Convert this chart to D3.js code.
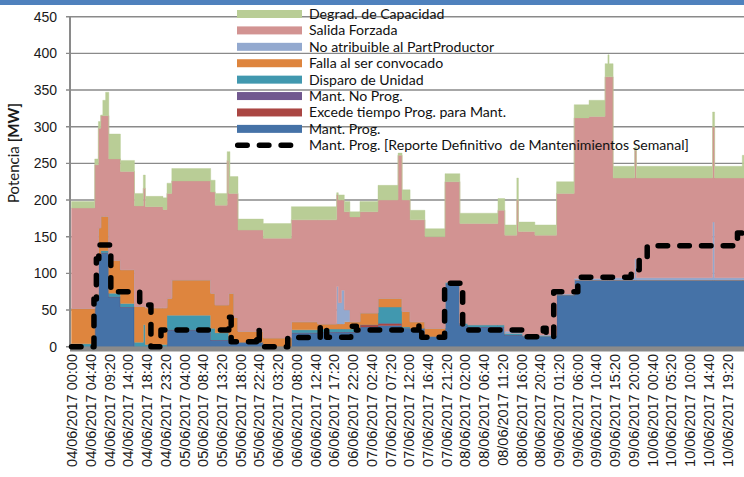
<!DOCTYPE html>
<html>
<head>
<meta charset="utf-8">
<script src="https://cdn.jsdelivr.net/npm/d3@7"></script>
<style>
  html, body { margin: 0; padding: 0; background: #fff; }
  svg { display: block; }
</style>
</head>
<body>
<div id="chart"></div>
<script>

// hours since 04/06/2017 00:00 at which the stacked values change (step data)
var hrs = [0, 5.8, 6.7, 7.3, 7.8, 8.5, 9.3, 12.2, 15.7, 17.9,
  18.4, 22.8, 23.8, 25.0, 34.7, 35.8, 38.8, 39.2, 39.5, 40.5,
  41.5, 47.8, 54.8, 61.4, 66.1, 66.5, 67.3, 68.0, 69.4, 71.9,
  76.4, 81.4, 82.4, 84.4, 88.1, 93.1, 96.8, 98.8, 106.3, 108.0,
  111.0, 111.4, 112.5, 115.5, 120.9, 125.3, 129.0, 133.0, 133.7, 134.0,
  135.0, 140.4, 140.8, 159.8, 160.3, 167.2, 167.6];

var mantProg = [0, 66, 122, 128, 128, 128, 68, 54, 0, 0,
  0, 0, 23, 23, 9, 9, 9, 5, 5, 5,
  6, 0, 19, 20, 20, 20, 20, 20, 20, 27,
  29, 29, 25, 25, 14, 86, 29, 27, 27, 16,
  16, 16, 14, 14, 70, 91, 91, 91, 91, 91,
  91, 91, 91, 91, 91, 91, 91];

var excede = [0, 0, 0, 0, 0, 0, 0, 0, 0, 0,
  0, 0, 0, 0, 0, 0, 0, 0, 0, 0,
  0, 0, 0, 0, 0, 0, 0, 0, 0, 3,
  3, 3, 0, 0, 0, 0, 0, 0, 0, 0,
  0, 0, 0, 0, 0, 0, 0, 0, 0, 0,
  0, 0, 0, 0, 0, 0, 0];

var mantNoProg = [0, 0, 0, 0, 0, 0, 0, 0, 0, 0,
  0, 0, 0, 0, 0, 0, 0, 0, 0, 0,
  0, 0, 0, 0, 0, 0, 0, 0, 0, 0,
  0, 0, 0, 0, 0, 0, 0, 0, 0, 0,
  0, 0, 0, 0, 0, 0, 0, 0, 0, 0,
  0, 0, 0, 0, 0, 0, 0];

var disparo = [4, 2, 3, 3, 3, 3, 5, 5, 6, 30,
  3, 3, 20, 20, 16, 10, 10, 5, 5, 5,
  0, 0, 4, 4, 4, 4, 4, 4, 4, 0,
  22, 22, 2, 0, 0, 2, 3, 3, 3, 2,
  2, 2, 1, 1, 1, 0, 0, 0, 0, 0,
  0, 0, 0, 0, 0, 0, 0];

var falla = [48, 4, 37, 47, 47, 47, 45, 46, 49, 25,
  50, 50, 23, 48, 48, 38, 38, 63, 63, 30,
  15, 12, 11, 7, 7, 7, 7, 10, 10, 16,
  12, 12, 21, 9, 11, 0, 0, 0, 0, 0,
  0, 0, 0, 0, 0, 0, 0, 0, 0, 0,
  0, 0, 0, 0, 0, 0, 0];

var noAtrib = [0, 0, 0, 0, 0, 0, 0, 0, 0, 0,
  0, 0, 0, 0, 0, 0, 0, 0, 0, 0,
  0, 0, 0, 0, 51, 29, 46, 16, 0, 0,
  0, 0, 0, 0, 0, 0, 0, 0, 0, 3,
  3, 3, 1, 1, 1, 2, 2, 2, 2, 2,
  3, 29, 3, 79, 3, 3, 3];

var salida = [137, 176, 136, 137, 137, 137, 138, 134, 137, 161,
  138, 134, 143, 135, 138, 136, 197, 136, 136, 169,
  138, 136, 139, 142, 125, 140, 123, 134, 143, 138,
  134, 195, 152, 139, 125, 137, 136, 138, 156, 131,
  179, 136, 141, 136, 137, 219, 221, 275, 275, 275,
  136, 148, 136, 130, 136, 136, 136];

var degrad = [9, 8, 9, 1, 21, 32, 34, 15, 17, 18,
  14, 16, 14, 17, 16, 16, 12, 57, 23, 23,
  15, 20, 18, 18, 3, 7, 7, 14, 7, 14,
  20, 3, 14, 13, 11, 11, 14, 14, 16, 14,
  30, 13, 13, 14, 16, 18, 22, 18, 30, 18,
  16, 4, 16, 20, 16, 31, 16];

// Mant. Prog. [Reporte Definitivo de Mantenimientos Semanal]
var repHrs = [0, 5.6, 6.2, 6.8, 9.8, 17.0, 19.8, 22.3, 39.2, 39.8,
  46.1, 46.8, 53.9, 62.0, 63.6, 69.6, 71.0, 86.6, 87.3, 93.0,
  97.5, 112.5, 117.6, 118.3, 120.2, 126.2, 139.5, 141.5, 143.5, 166.0, 168];
var repVals = [0, 65, 120, 138.6, 75, 57, 0, 22.7, 40, 6.8,
  22, 0, 12.7, 28, 13, 28, 22.7, 30, 13, 86.4,
  22.7, 13.6, 25, 13.6, 75, 94.6, 105, 118, 137.8, 155, 155];

var tickLabels = ['04/06/2017 00:00', '04/06/2017 04:40', '04/06/2017 09:20', '04/06/2017 14:00',
  '04/06/2017 18:40', '04/06/2017 23:20', '05/06/2017 04:00', '05/06/2017 08:40',
  '05/06/2017 13:20', '05/06/2017 18:00', '05/06/2017 22:40', '06/06/2017 03:20',
  '06/06/2017 08:00', '06/06/2017 12:40', '06/06/2017 17:20', '06/06/2017 22:00',
  '07/06/2017 02:40', '07/06/2017 07:20', '07/06/2017 12:00', '07/06/2017 16:40',
  '07/06/2017 21:20', '08/06/2017 02:00', '08/06/2017 06:40', '08/06/2017 11:20',
  '08/06/2017 16:00', '08/06/2017 20:40', '09/06/2017 01:20', '09/06/2017 06:00',
  '09/06/2017 10:40', '09/06/2017 15:20', '09/06/2017 20:00', '10/06/2017 00:40',
  '10/06/2017 05:20', '10/06/2017 10:00', '10/06/2017 14:40', '10/06/2017 19:20'];

var yTicks = [0, 50, 100, 150, 200, 250, 300, 350, 400, 450];

var seriesNames = ['Mant. Prog.', 'Excede tiempo Prog. para Mant.', 'Mant. No Prog.',
  'Disparo de Unidad', 'Falla al ser convocado', 'No atribuible al PartProductor',
  'Salida Forzada', 'Degrad. de Capacidad'];
var repName = 'Mant. Prog. [Reporte Definitivo\u00a0 de Mantenimientos Semanal]';

var colors = ['#4572a7', '#aa4643', '#71588f', '#4198af', '#de853e', '#93a9cf', '#d29392', '#b9cd96'];


var width = 744, height = 477;
var t0 = new Date(2017, 5, 4, 0, 0);
var parseTick = d3.timeParse('%d/%m/%Y %H:%M');
function hourToDate(h) { return new Date(t0.getTime() + h * 3600000); }

var svg = d3.select('#chart').append('svg')
  .attr('width', width).attr('height', height);

var x = d3.scaleTime().domain([t0, hourToDate(168)]).range([71.5, 745.5]);
var y = d3.scaleLinear().domain([0, 450]).range([346.7, 16.7]);

// build the stack table
var keys = ['mp', 'ex', 'np', 'dis', 'fal', 'noa', 'sal', 'deg'];
var valueArrays = [mantProg, excede, mantNoProg, disparo, falla, noAtrib, salida, degrad];
var rows = hrs.map(function (h, i) {
  var r = { t: hourToDate(h) };
  keys.forEach(function (k, j) { r[k] = valueArrays[j][i]; });
  return r;
});
// hold the last step up to the end of the week
rows.push(Object.assign({}, rows[rows.length - 1], { t: hourToDate(168) }));

var stacked = d3.stack().keys(keys)(rows);

// gridlines
svg.append('g').selectAll('line').data(yTicks).enter().append('line')
  .attr('x1', 66).attr('x2', width)
  .attr('y1', function (d) { return y(d); }).attr('y2', function (d) { return y(d); })
  .attr('stroke', '#8a8a8a').attr('stroke-width', 1.4);

// y axis line
svg.append('line').attr('x1', 70).attr('x2', 70).attr('y1', y(450)).attr('y2', y(0))
  .attr('stroke', '#8a8a8a').attr('stroke-width', 2);

var area = d3.area()
  .curve(d3.curveStepAfter)
  .x(function (d) { return x(d.data.t); })
  .y0(function (d) { return y(d[0]); })
  .y1(function (d) { return y(d[1]); });

svg.append('g').selectAll('path').data(stacked).enter().append('path')
  .attr('d', area)
  .attr('fill', function (d, i) { return colors[i]; })
  .attr('stroke', function (d, i) { return colors[i]; })
  .attr('stroke-width', 0.4);

// x axis band
svg.append('rect').attr('x', 70).attr('y', 346.5).attr('width', width - 70).attr('height', 5)
  .attr('fill', '#8a8a8a');

// dashed report line
var repLine = d3.line()
  .curve(d3.curveStepAfter)
  .x(function (d) { return x(hourToDate(d[0])); })
  .y(function (d) { return y(d[1]); });

svg.append('path')
  .datum(repHrs.map(function (h, i) { return [h, repVals[i]]; }))
  .attr('d', repLine)
  .attr('fill', 'none')
  .attr('stroke', '#000')
  .attr('stroke-width', 5.5)
  .attr('stroke-linecap', 'round')
  .attr('stroke-linejoin', 'round')
  .attr('stroke-dasharray', '9.5 12.2');

// y tick labels
svg.append('g').selectAll('text').data(yTicks).enter().append('text')
  .attr('x', 57).attr('y', function (d) { return y(d) + 5; })
  .attr('text-anchor', 'end')
  .style('font-family', '"Liberation Sans", Arial, sans-serif')
  .style('font-size', '14px')
  .attr('fill', '#1a1a1a')
  .text(function (d) { return d; });

// x tick labels
var xAxis = d3.axisBottom(x)
  .tickValues(tickLabels.map(parseTick))
  .tickSize(0)
  .tickFormat(function (d, i) { return tickLabels[i]; });

var gx = svg.append('g').attr('transform', 'translate(0,' + 354 + ')').call(xAxis);
gx.select('.domain').remove();
gx.selectAll('text')
  .attr('transform', 'rotate(-90)')
  .attr('x', 0).attr('y', 0).attr('dx', 0).attr('dy', '0.36em')
  .attr('text-anchor', 'end')
  .style('font-family', '"Liberation Sans", Arial, sans-serif')
  .style('font-size', '14.5px')
  .attr('fill', '#1a1a1a');

// y axis title
var yTitle = svg.append('text')
  .attr('transform', 'translate(19,153) rotate(-90)')
  .attr('text-anchor', 'middle')
  .style('font-family', 'Lato, "Open Sans", sans-serif')
  .style('font-size', '15px')
  .attr('fill', '#1a1a1a');
yTitle.append('tspan').text('Potencia ');
yTitle.append('tspan').style('font-weight', 'bold').text('[MW]');

// legend (drawn over the plot, no background)
var legendOrder = [7, 6, 5, 4, 3, 2, 1, 0];
var legend = svg.append('g');
legendOrder.forEach(function (si, row) {
  var cy = 14 + row * 16.41;
  legend.append('rect').attr('x', 237).attr('y', cy - 4).attr('width', 65).attr('height', 8)
    .attr('fill', colors[si]);
  legend.append('text').attr('x', 309).attr('y', cy + 5)
    .style('font-family', 'Lato, "Open Sans", sans-serif')
    .style('font-size', '14.1px')
    .attr('fill', '#111')
    .text(seriesNames[si]);
});
var repY = 14 + 8 * 16.41;
legend.append('line').attr('x1', 237.7).attr('x2', 302).attr('y1', repY).attr('y2', repY)
  .attr('stroke', '#000').attr('stroke-width', 5.5)
  .attr('stroke-linecap', 'round').attr('stroke-dasharray', '9.5 12.2');
legend.append('text').attr('x', 309).attr('y', repY + 5)
  .style('font-family', 'Lato, "Open Sans", sans-serif')
  .style('font-size', '14.1px')
  .attr('fill', '#111')
  .text(repName);

// top band
svg.append('rect').attr('x', 0).attr('y', 0).attr('width', width).attr('height', 5)
  .attr('fill', '#4f81bd');

</script>
</body>
</html>
